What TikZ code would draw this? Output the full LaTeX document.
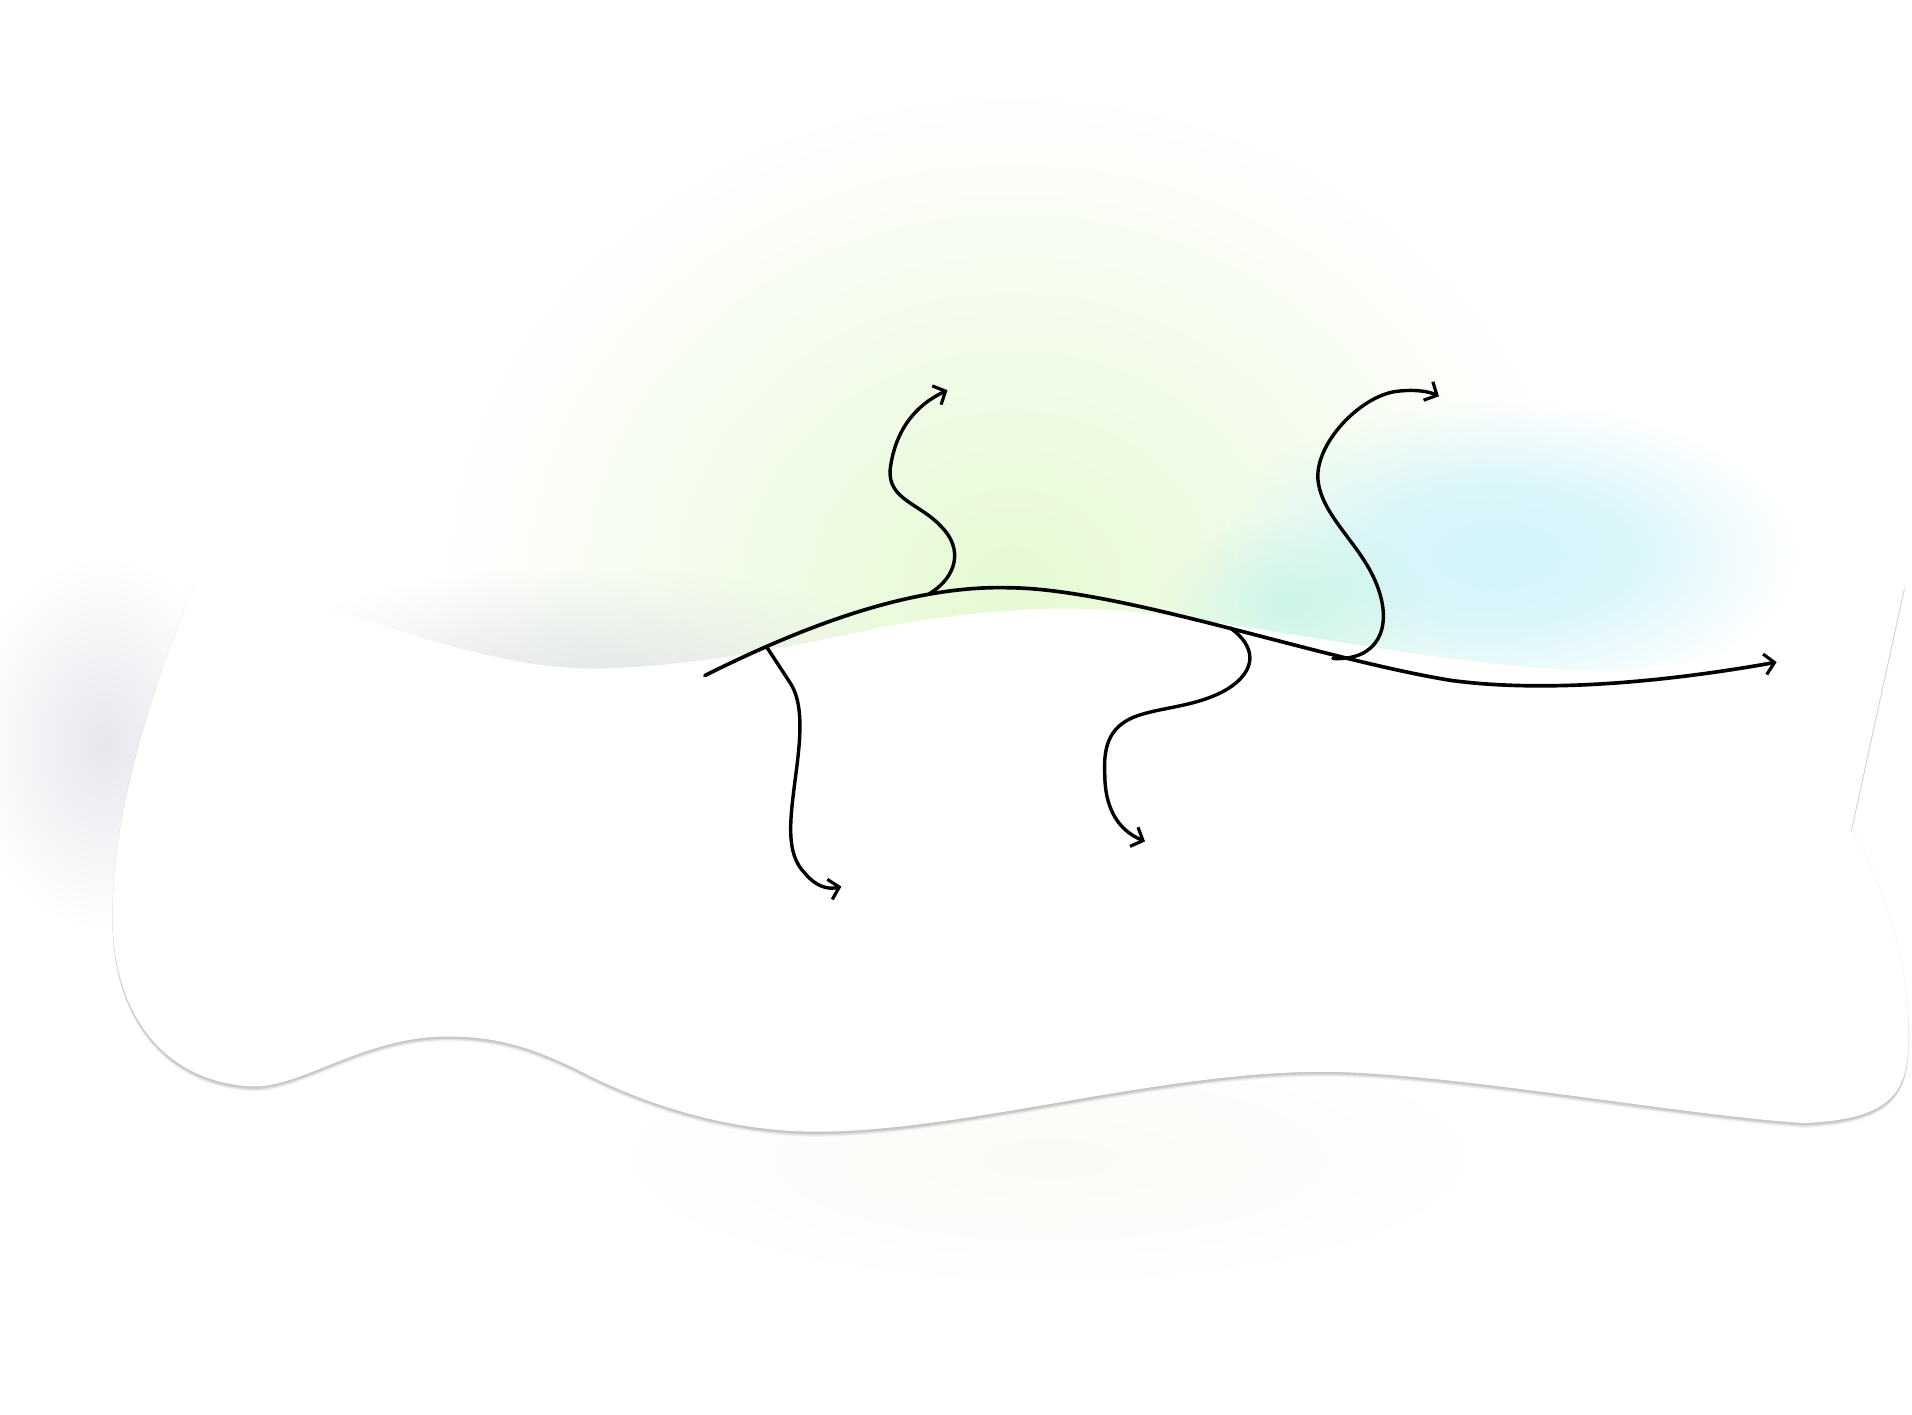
\documentclass[tikz,border=0pt]{standalone}
\usetikzlibrary{arrows.meta,fadings}
\definecolor{greenc}{RGB}{230,250,212}
\definecolor{cyanc}{RGB}{212,245,251}
\definecolor{mintc}{RGB}{204,245,232}
\definecolor{grayc}{RGB}{226,230,230}
\definecolor{grayb}{RGB}{231,232,238}
\definecolor{greenf}{RGB}{249,252,245}
\definecolor{shadowc}{RGB}{100,100,100}
\tikzfading[name=linblob, inner color=transparent!0, outer color=transparent!100]
\pgfdeclareradialshading{softshade}{\pgfpointorigin}{color(0bp)=(white); color(11bp)=(white!85!black); color(25bp)=(black); color(50bp)=(black)}
\pgfdeclarefading{softblob}{\pgfuseshading{softshade}}
\tikzset{
  flow/.style={line width=2.8pt, line cap=round, -{Straight Barb[length=8pt,width=17pt,line width=2.6pt]}},
  mainflow/.style={line width=3pt, line cap=round, -{Straight Barb[length=8pt,width=17pt,line width=2.6pt]}},
}
\def\paperrest{(1562,480) -- (1518,681)
  .. controls (1548,730) and (1568,800) .. (1565,860)
  .. controls (1563,900) and (1545,918) .. (1480,921)
  .. controls (1380,915) and (1180,878) .. (1080,879)
  .. controls (950,880) and (800,925) .. (680,928)
  .. controls (600,930) and (530,905) .. (485,883)
  .. controls (440,860) and (410,850) .. (367,850)
  .. controls (300,850) and (250,890) .. (210,891)
  .. controls (150,890) and (100,850) .. (93,770)
  .. controls (88,700) and (110,600) .. (160,478)}
\def\paperpath{(160,478) .. controls (200,482) and (260,495) .. (330,518)
  .. controls (400,540) and (450,550) .. (500,548)
  .. controls (580,545) and (650,530) .. (720,515)
  .. controls (790,502) and (860,495) .. (930,502)
  .. controls (1030,512) and (1150,540) .. (1280,549)
  .. controls (1360,553) and (1420,540) .. (1460,525)
  .. controls (1500,510) and (1540,495) .. (1562,480)
  -- (1518,681)
  .. controls (1548,730) and (1568,800) .. (1565,860)
  .. controls (1563,900) and (1545,918) .. (1480,921)
  .. controls (1380,915) and (1180,878) .. (1080,879)
  .. controls (950,880) and (800,925) .. (680,928)
  .. controls (600,930) and (530,905) .. (485,883)
  .. controls (440,860) and (410,850) .. (367,850)
  .. controls (300,850) and (250,890) .. (210,891)
  .. controls (150,890) and (100,850) .. (93,770)
  .. controls (88,700) and (110,600) .. (160,478) -- cycle}
\begin{document}
\begin{tikzpicture}[x=1pt,y=-1pt]
\useasboundingbox (0,0) rectangle (1568,1160);
\fill[white] (0,0) rectangle (1568,1160);
% soft background blobs
\fill[greenc, path fading=linblob] (830,480) ellipse [x radius=460pt, y radius=400pt];
\fill[grayc, path fading=linblob] (480,565) ellipse [x radius=285pt, y radius=100pt];
\fill[grayb, path fading=linblob] (85,610) ellipse [x radius=110pt, y radius=150pt];
\fill[greenf, path fading=linblob] (860,950) ellipse [x radius=340pt, y radius=100pt];
\fill[cyanc, path fading=softblob] (1232,455) ellipse [x radius=240pt, y radius=125pt];
\fill[mintc, path fading=linblob] (1060,495) ellipse [x radius=110pt, y radius=70pt];
% paper shape with drop shadow
\fill[shadowc, opacity=0.07, yshift=-4pt] \paperpath;
\fill[shadowc, opacity=0.12, yshift=-3pt] \paperpath;
\fill[shadowc, opacity=0.18, yshift=-2pt] \paperpath;
\draw[shadowc, line width=1pt, opacity=0.08] \paperrest;
\fill[white] \paperpath;
% connectors
\coordinate (mstart) at (578,554);
\coordinate (mpeak) at (828,482);
\coordinate (mmid) at (1190,558);
\coordinate (mend) at (1457,543);
\coordinate (b1) at (762,487);
\coordinate (e1) at (777,320);
\coordinate (b2) at (629,531);
\coordinate (e2) at (690,727);
\coordinate (b3) at (1009,515);
\coordinate (e3) at (939,690);
\coordinate (b4) at (1093,540);
\coordinate (e4) at (1180,325);
\draw[mainflow] (mstart) .. controls (680,503) and (760,480) .. (mpeak)
  .. controls (920,483) and (1080,540) .. (mmid)
  .. controls (1280,570) and (1390,555) .. (mend);
\draw[flow] (b1) .. controls (785,473) and (790,450) .. (772,432)
  .. controls (755,413) and (728,410) .. (730,385)
  .. controls (733,360) and (745,335) .. (e1);
\draw[flow] (b2) -- (648,560) .. controls (660,578) and (656,610) .. (652,640)
  .. controls (648,672) and (644,700) .. (660,716)
  .. controls (668,726) and (678,730) .. (e2);
\draw[flow] (b3) .. controls (1030,530) and (1032,550) .. (1005,566)
  .. controls (980,580) and (950,580) .. (930,588)
  .. controls (908,597) and (905,615) .. (906,635)
  .. controls (906,660) and (915,680) .. (e3);
\draw[flow] (b4) .. controls (1130,542) and (1142,515) .. (1130,482)
  .. controls (1118,448) and (1085,425) .. (1081,395)
  .. controls (1077,365) and (1115,325) .. (1145,321)
  .. controls (1160,319) and (1172,321) .. (e4);
\end{tikzpicture}
\end{document}
